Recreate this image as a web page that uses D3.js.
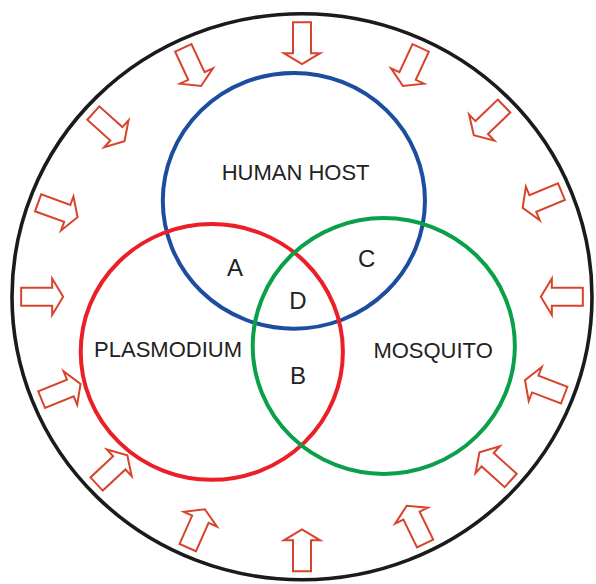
<!DOCTYPE html>
<html>
<head>
<meta charset="utf-8">
<script src="https://cdn.jsdelivr.net/npm/d3@7"></script>
<style>
body { margin: 0; background: #fff; }
svg { display: block; }
</style>
</head>
<body>
<svg id="chart"></svg>
<script>
// venn sets, in a -100..100 space where the outer ring is radius 100
const setNames = ["HUMAN HOST", "PLASMODIUM", "MOSQUITO"];
const setCenterX = [-2.8, -31.1, 28.2];
const setCenterY = [-33.9, 19.5, 17.4];
const setRadius = [45.2, 45.2, 45.2];
const setLabelX = [-2.2, -46.2, 45.2];
const setLabelY = [-41.2, 21.4, 21.7];

// overlap regions
const regionNames = ["A", "B", "C", "D"];
const regionX = [-23.1, -1.4, 22.3, -1.4];
const regionY = [-7.3, 30.8, -10.6, 4.3];

// arrows around the ring, degrees clockwise from the top
const arrowAngles = [0, 25, 46, 67.5, 90, 111, 132, 154, 180, 204, 227, 248, 270, 290, 312, 335];
const outerRadius = 100;
const arrowRadius = 89.6;

function drawChart() {
	const width = 596;
	const height = 584;

	const x = d3.scaleLinear().domain([-100, 100]).range([12, 592]);
	const y = d3.scaleLinear().domain([-100, 100]).range([13.75, 579.75]);
	const rx = (r) => x(r) - x(0);
	const ry = (r) => y(r) - y(0);

	const color = d3.scaleOrdinal()
		.domain(setNames)
		.range(["#1d4d9f", "#ea1f27", "#0aa04a"]);

	const svg = d3.select("#chart")
		.attr("width", width)
		.attr("height", height)
		.style("background", "#fff");

	svg.append("ellipse")
		.attr("cx", x(0))
		.attr("cy", y(0))
		.attr("rx", rx(outerRadius))
		.attr("ry", ry(outerRadius))
		.attr("fill", "none")
		.attr("stroke", "#1b1b1b")
		.attr("stroke-width", 3.6);

	// arrow shape pointing down, centred on the origin
	const arrowPath = "M-9,-21 L9,-21 L9,10 L18.2,10 L0,21 L-18.2,10 L-9,10 Z";

	svg.selectAll(".arrow")
		.data(arrowAngles)
		.enter()
		.append("path")
			.classed("arrow", true)
			.attr("d", arrowPath)
			.attr("transform", (d) => {
				const a = d * Math.PI / 180;
				return `translate(${x(Math.sin(a) * arrowRadius)}, ${y(-Math.cos(a) * arrowRadius)}) rotate(${d})`;
			})
			.attr("fill", "#fff")
			.attr("stroke", "#d8432c")
			.attr("stroke-width", 2)
			.attr("stroke-linejoin", "miter");

	svg.selectAll(".set")
		.data(setNames)
		.enter()
		.append("ellipse")
			.classed("set", true)
			.attr("cx", (d, i) => x(setCenterX[i]))
			.attr("cy", (d, i) => y(setCenterY[i]))
			.attr("rx", (d, i) => rx(setRadius[i]))
			.attr("ry", (d, i) => ry(setRadius[i]))
			.attr("fill", "none")
			.attr("stroke", (d) => color(d))
			.attr("stroke-width", 4);

	svg.selectAll(".setLabel")
		.data(setNames)
		.enter()
		.append("text")
			.classed("setLabel", true)
			.attr("x", (d, i) => x(setLabelX[i]))
			.attr("y", (d, i) => y(setLabelY[i]))
			.attr("text-anchor", "middle")
			.style("font-family", "'Liberation Sans', Arial, sans-serif")
			.style("font-size", "22px")
			.attr("fill", "#222")
			.text((d) => d);

	svg.selectAll(".regionLabel")
		.data(regionNames)
		.enter()
		.append("text")
			.classed("regionLabel", true)
			.attr("x", (d, i) => x(regionX[i]))
			.attr("y", (d, i) => y(regionY[i]))
			.attr("text-anchor", "middle")
			.style("font-family", "'Liberation Sans', Arial, sans-serif")
			.style("font-size", "24px")
			.attr("fill", "#222")
			.text((d) => d);
}

drawChart();
</script>
</body>
</html>
